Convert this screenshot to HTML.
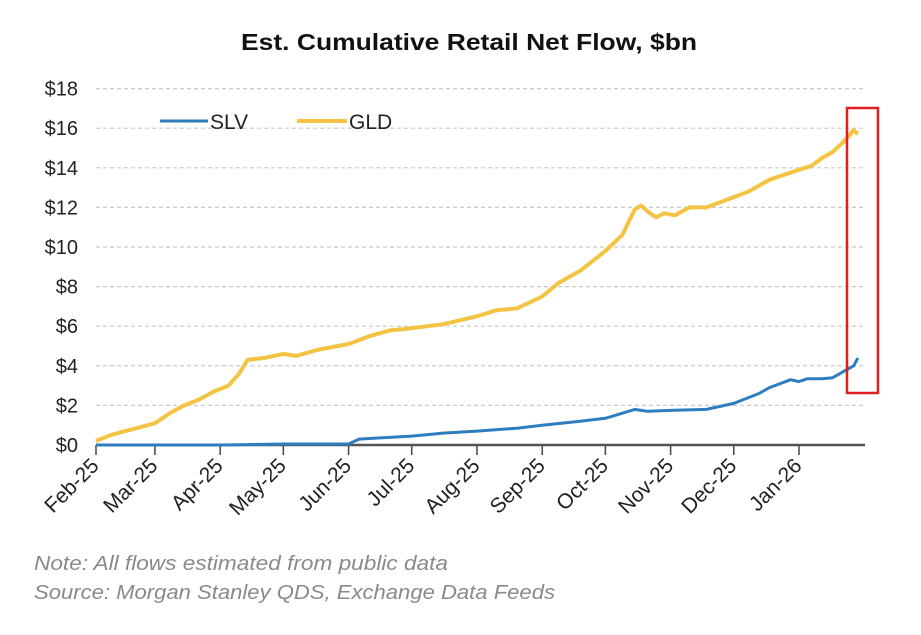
<!DOCTYPE html>
<html><head><meta charset="utf-8"><style>
body{margin:0;background:#fff;width:921px;height:630px;overflow:hidden;font-family:"Liberation Sans",sans-serif}
</style></head><body>
<svg id="chart" width="921" height="630" xmlns="http://www.w3.org/2000/svg" font-family="Liberation Sans, sans-serif">
<text x="241" y="50" textLength="456" lengthAdjust="spacingAndGlyphs" font-size="23" font-weight="bold" fill="#111">Est. Cumulative Retail Net Flow, $bn</text>
<g id="grid"></g><g id="yaxis"></g><g id="xaxis"></g><g id="series"></g>
<g>
<line x1="160" y1="121" x2="208" y2="121" stroke="#2e7ebf" stroke-width="3"/>
<text x="210" y="129" font-size="21" fill="#222">SLV</text>
<line x1="297" y1="121" x2="347" y2="121" stroke="#f3c343" stroke-width="4"/>
<text x="349" y="129" font-size="21" fill="#222">GLD</text>
</g>
<rect x="847" y="108" width="31" height="285" fill="none" stroke="#e02020" stroke-width="2.5"/>
<text x="34" y="570" textLength="414" lengthAdjust="spacingAndGlyphs" font-size="20" font-style="italic" fill="#8a8a8a">Note:  All flows estimated from public data</text>
<text x="34" y="599" textLength="521" lengthAdjust="spacingAndGlyphs" font-size="20" font-style="italic" fill="#8a8a8a">Source: Morgan Stanley QDS, Exchange Data Feeds</text>
</svg>
<script>
const tickLabels=["Feb-25","Mar-25","Apr-25","May-25","Jun-25","Jul-25","Aug-25","Sep-25","Oct-25","Nov-25","Dec-25","Jan-26"];
const tickDays=[0,28,59,89,120,150,181,212,242,273,303,334];
const yTicks=[0,2,4,6,8,10,12,14,16,18];
const gldDays=[0,7,14,21,28,35,42,49,56,63,68,72,80,89,95,105,120,130,140,150,165,181,190,200,212,220,230,242,250,256,259,262,266,270,275,282,290,300,310,320,334,340,345,350,355,360,362];
const gldVals=[0.2,0.5,0.7,0.9,1.1,1.6,2.0,2.3,2.7,3.0,3.6,4.3,4.4,4.6,4.5,4.8,5.1,5.5,5.8,5.9,6.1,6.5,6.8,6.9,7.5,8.2,8.8,9.8,10.6,11.9,12.1,11.8,11.5,11.7,11.6,12.0,12.0,12.4,12.8,13.4,13.9,14.1,14.5,14.8,15.3,15.9,15.7];
const slvDays=[0,60,89,100,120,125,150,165,181,200,212,230,242,256,262,273,290,303,315,320,330,334,338,345,350,355,360,362];
const slvVals=[0,0,0.05,0.05,0.05,0.3,0.45,0.6,0.7,0.85,1.0,1.2,1.35,1.8,1.7,1.75,1.8,2.1,2.6,2.9,3.3,3.2,3.35,3.35,3.4,3.7,4.0,4.4];
const X0=96,X1=799,Y0=445,PX=19.8,XEND=865;
const x=d=>X0+d*(X1-X0)/334;
const y=v=>Y0-v*PX;
const NS="http://www.w3.org/2000/svg";
function mk(t,a,p){const e=document.createElementNS(NS,t);for(const k in a)e.setAttribute(k,a[k]);p.appendChild(e);return e;}
const grid=document.getElementById('grid'),ya=document.getElementById('yaxis'),xa=document.getElementById('xaxis'),ser=document.getElementById('series');
yTicks.forEach(v=>{
 if(v>0){const g=mk('line',{x1:X0,x2:XEND,y1:y(v),y2:y(v),stroke:'#c8c8c8','stroke-width':1.2,'stroke-dasharray':'4,3'},grid);
 
 }
 const t=mk('text',{x:78,y:y(v)+7,'text-anchor':'end','font-size':20,fill:'#222'},ya);
 
 
 t.textContent='$'+v;
});
tickDays.forEach((d,i)=>{
 const l=mk('line',{x1:x(d),x2:x(d),y1:Y0,y2:Y0+10,stroke:'#444','stroke-width':1.5},xa);
 
 
 const t=mk('text',{x:x(d)+4,y:Y0+22,'text-anchor':'end','font-size':21,fill:'#222',transform:`rotate(-45 ${x(d)+4} ${Y0+22})`},xa);
 
 
 t.textContent=tickLabels[i];
});
const ax=mk('line',{x1:X0,x2:XEND,y1:Y0,y2:Y0,stroke:'#555','stroke-width':2.5},xa);


const pts=(ds,vs)=>ds.map((d,i)=>x(d).toFixed(1)+','+y(vs[i]).toFixed(1)).join(' ');
const s=mk('polyline',{points:pts(slvDays,slvVals),fill:'none',stroke:'#2e7ebf','stroke-width':3,'stroke-linejoin':'round'},ser);


const g=mk('polyline',{points:pts(gldDays,gldVals),fill:'none',stroke:'#f3c343','stroke-width':4,'stroke-linejoin':'round'},ser);


</script>
</body></html>
